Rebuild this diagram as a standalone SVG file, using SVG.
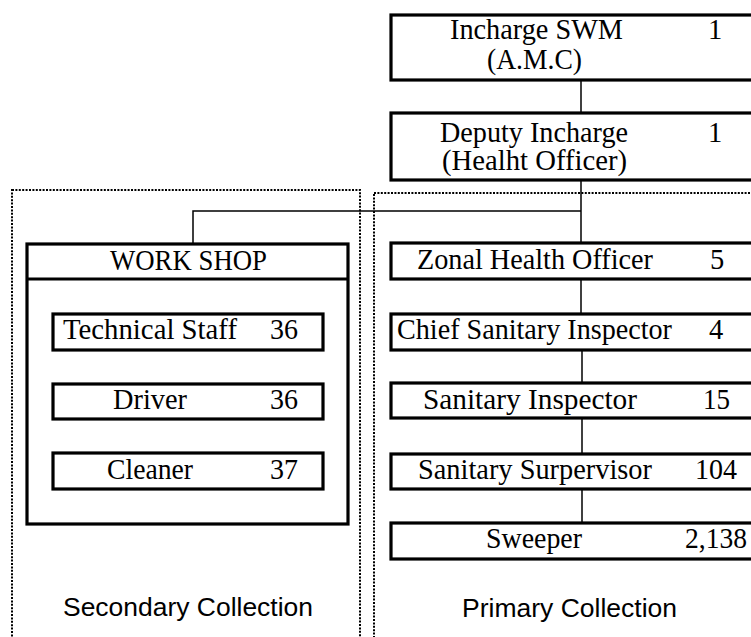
<svg xmlns="http://www.w3.org/2000/svg" width="751" height="637" viewBox="0 0 751 637">
  <style>
    .box { fill: #ffffff; stroke: #000000; stroke-width: 3.2; }
    .link { fill: none; stroke: #000000; stroke-width: 1.5; }
    .zone { fill: none; stroke: #000000; stroke-width: 2; stroke-dasharray: 2 1.4; }
    .t { font-family: "Liberation Serif", "Times New Roman", serif; font-size: 28.5px; fill: #000000; }
    .s { font-family: "Liberation Sans", Arial, sans-serif; font-size: 26.5px; fill: #000000; }
  </style>
  <rect width="751" height="637" fill="#ffffff"/>

  <!-- collection zones (dotted frames) -->
  <g id="zone-secondary">
    <rect class="zone" x="12" y="190" width="348" height="460"/>
    <text class="s" x="63" y="616" textLength="250" lengthAdjust="spacingAndGlyphs">Secondary Collection</text>
  </g>
  <g id="zone-primary">
    <rect class="zone" x="374" y="193" width="400" height="460"/>
    <text class="s" x="462" y="617" textLength="215" lengthAdjust="spacingAndGlyphs">Primary Collection</text>
  </g>

  <!-- connectors -->
  <g id="connectors">
    <line class="link" x1="581" y1="80" x2="581" y2="113"/>
    <line class="link" x1="581" y1="180" x2="581" y2="243"/>
    <polyline class="link" points="581,211 193,211 193,244"/>
    <line class="link" x1="581" y1="279" x2="581" y2="314"/>
    <line class="link" x1="582" y1="350" x2="582" y2="383"/>
    <line class="link" x1="582" y1="418" x2="582" y2="454"/>
    <line class="link" x1="582" y1="489" x2="582" y2="523"/>
  </g>

  <!-- primary hierarchy -->
  <g id="incharge">
    <rect class="box" x="391" y="15" width="380" height="65"/>
    <text class="t" x="450" y="39" textLength="173" lengthAdjust="spacingAndGlyphs">Incharge SWM</text>
    <text class="t" x="708" y="39">1</text>
    <text class="t" x="487" y="69" textLength="95" lengthAdjust="spacingAndGlyphs">(A.M.C)</text>
  </g>
  <g id="deputy">
    <rect class="box" x="391" y="113" width="380" height="67"/>
    <text class="t" x="440" y="142" textLength="188" lengthAdjust="spacingAndGlyphs">Deputy Incharge</text>
    <text class="t" x="708" y="142">1</text>
    <text class="t" x="442" y="170" textLength="185" lengthAdjust="spacingAndGlyphs">(Healht Officer)</text>
  </g>
  <g id="zonal">
    <rect class="box" x="391" y="243" width="380" height="36"/>
    <text class="t" x="417" y="269" textLength="236" lengthAdjust="spacingAndGlyphs">Zonal Health Officer</text>
    <text class="t" x="710" y="269">5</text>
  </g>
  <g id="chief">
    <rect class="box" x="391" y="314" width="380" height="36"/>
    <text class="t" x="397" y="339" textLength="275" lengthAdjust="spacingAndGlyphs">Chief Sanitary Inspector</text>
    <text class="t" x="709" y="339">4</text>
  </g>
  <g id="inspector">
    <rect class="box" x="391" y="383" width="380" height="35"/>
    <text class="t" x="423" y="409" textLength="214" lengthAdjust="spacingAndGlyphs">Sanitary Inspector</text>
    <text class="t" x="703" y="409" textLength="27" lengthAdjust="spacingAndGlyphs">15</text>
  </g>
  <g id="supervisor">
    <rect class="box" x="391" y="454" width="380" height="35"/>
    <text class="t" x="418" y="479" textLength="234" lengthAdjust="spacingAndGlyphs">Sanitary Surpervisor</text>
    <text class="t" x="695" y="479" textLength="42" lengthAdjust="spacingAndGlyphs">104</text>
  </g>
  <g id="sweeper">
    <rect class="box" x="391" y="523" width="380" height="36"/>
    <text class="t" x="486" y="548" textLength="96" lengthAdjust="spacingAndGlyphs">Sweeper</text>
    <text class="t" x="685" y="548" textLength="62" lengthAdjust="spacingAndGlyphs">2,138</text>
  </g>

  <!-- workshop -->
  <g id="workshop">
    <rect class="box" x="27" y="244" width="321" height="280"/>
    <line class="box" x1="27" y1="279" x2="348" y2="279"/>
    <text class="t" x="110" y="270" textLength="157" lengthAdjust="spacingAndGlyphs">WORK SHOP</text>
  </g>
  <g id="technical-staff">
    <rect class="box" x="53" y="314" width="270" height="36"/>
    <text class="t" x="63" y="339" textLength="174" lengthAdjust="spacingAndGlyphs">Technical Staff</text>
    <text class="t" x="270" y="339" textLength="28" lengthAdjust="spacingAndGlyphs">36</text>
  </g>
  <g id="driver">
    <rect class="box" x="53" y="384" width="270" height="35"/>
    <text class="t" x="113" y="409" textLength="74" lengthAdjust="spacingAndGlyphs">Driver</text>
    <text class="t" x="270" y="409" textLength="28" lengthAdjust="spacingAndGlyphs">36</text>
  </g>
  <g id="cleaner">
    <rect class="box" x="53" y="453" width="270" height="36"/>
    <text class="t" x="107" y="479" textLength="86" lengthAdjust="spacingAndGlyphs">Cleaner</text>
    <text class="t" x="270" y="479" textLength="28" lengthAdjust="spacingAndGlyphs">37</text>
  </g>
</svg>
